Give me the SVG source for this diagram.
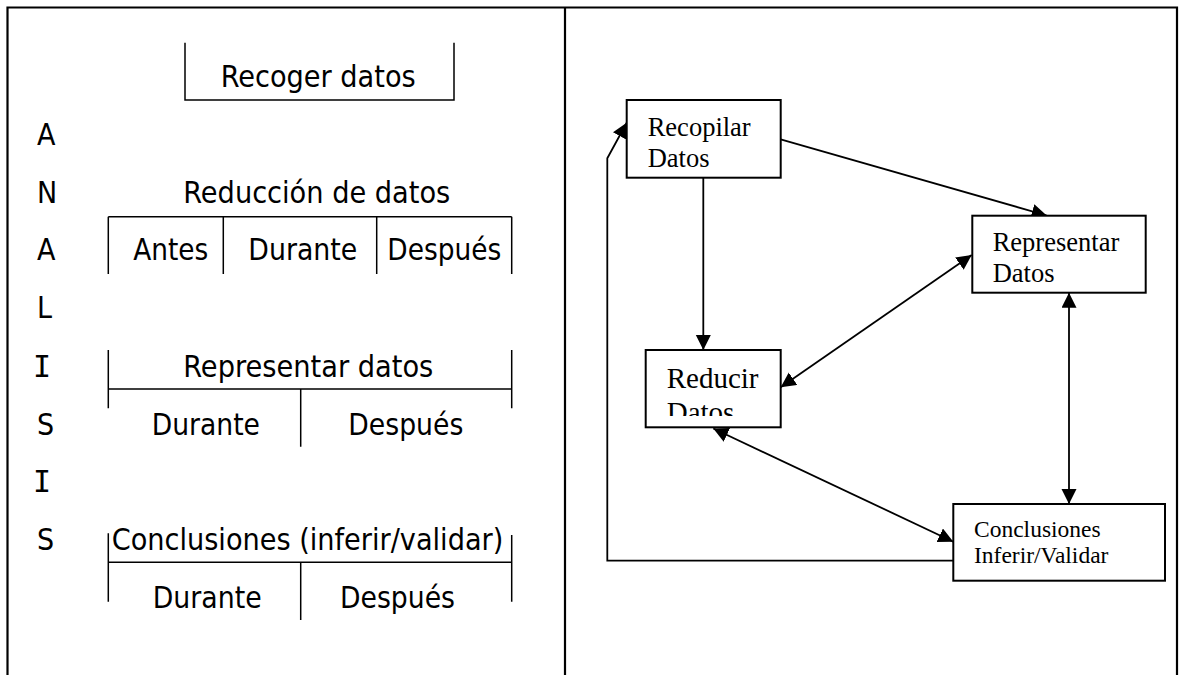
<svg xmlns="http://www.w3.org/2000/svg" width="1179" height="675" viewBox="0 0 1179 675">
<style>
.frame{fill:none;stroke:#000;stroke-width:2.2}
.br{fill:none;stroke:#000;stroke-width:1.5}
.lt{font-family:"DejaVu Sans Condensed","DejaVu Sans",sans-serif;font-size:30px;fill:#000}
.ltI{font-family:"DejaVu Sans Mono",monospace;font-size:30px;fill:#000}
.box{fill:#fff;stroke:#000;stroke-width:2}
.bt{font-family:"Liberation Serif","Times New Roman",serif;fill:#000}
.con{fill:none;stroke:#000;stroke-width:1.8}
</style>
<defs>
<marker id="ah" markerUnits="userSpaceOnUse" markerWidth="16" markerHeight="16" refX="15" refY="7.5" orient="auto-start-reverse" viewBox="0 0 16 16">
<path d="M0,0 L15,7.5 L0,15 z" fill="#000"/>
</marker>
<clipPath id="clipRed"><rect x="645.7" y="350" width="135" height="66"/></clipPath>
</defs>
<rect width="1179" height="675" fill="#fff"/>
<g id="frame">
<path class="frame" d="M7.5,675 V7.5 H1177 V675"/>
<path class="frame" d="M565,7.5 V675"/>
</g>
<g id="analisis-letters">
<text class="lt" x="37" y="145">A</text>
<text class="lt" x="37" y="203">N</text>
<text class="lt" x="37" y="260">A</text>
<text class="lt" x="37" y="318">L</text>
<text class="ltI" x="33" y="376.5">I</text>
<text class="lt" x="37" y="435">S</text>
<text class="ltI" x="33" y="492">I</text>
<text class="lt" x="37" y="550">S</text>
</g>
<g id="recoger">
<path class="br" d="M185,42.7 V100 H454 V42.7"/>
<text class="lt" x="220.7" y="87.3" textLength="195" lengthAdjust="spacingAndGlyphs">Recoger datos</text>
</g>
<g id="reduccion">
<text class="lt" x="183.3" y="203.3" textLength="267" lengthAdjust="spacingAndGlyphs">Reducción de datos</text>
<path class="br" d="M108.3,216.7 H511.7 M108.3,216.7 V274 M223.3,216.7 V274 M376.7,216.7 V274 M511.7,216.7 V274"/>
<text class="lt" x="133.3" y="260" textLength="75" lengthAdjust="spacingAndGlyphs">Antes</text>
<text class="lt" x="248.3" y="260" textLength="109" lengthAdjust="spacingAndGlyphs">Durante</text>
<text class="lt" x="387.3" y="260" textLength="114" lengthAdjust="spacingAndGlyphs">Después</text>
</g>
<g id="representar">
<text class="lt" x="183.3" y="376.7" textLength="250" lengthAdjust="spacingAndGlyphs">Representar datos</text>
<path class="br" d="M108.3,350 V408.3 M511.7,350 V408.3 M108.3,389 H511.7 M300.7,389 V446.7"/>
<text class="lt" x="151.7" y="435" textLength="108.3" lengthAdjust="spacingAndGlyphs">Durante</text>
<text class="lt" x="348.3" y="435" textLength="115" lengthAdjust="spacingAndGlyphs">Después</text>
</g>
<g id="conclusiones">
<text class="lt" x="111.7" y="550" textLength="391.6" lengthAdjust="spacingAndGlyphs">Conclusiones (inferir/validar)</text>
<path class="br" d="M108.3,533.3 V601.7 M511.7,535 V601.7 M108.3,562.3 H511.7 M300.7,562.3 V620"/>
<text class="lt" x="152.7" y="608.3" textLength="109" lengthAdjust="spacingAndGlyphs">Durante</text>
<text class="lt" x="340" y="608.3" textLength="115" lengthAdjust="spacingAndGlyphs">Después</text>
</g>
<g id="connectors">
<path class="con" d="M780.7,139.3 L1046.7,215.5" marker-end="url(#ah)"/>
<path class="con" d="M703.3,177.7 V350" marker-end="url(#ah)"/>
<path class="con" d="M971.7,255 L780.7,387.3" marker-start="url(#ah)" marker-end="url(#ah)"/>
<path class="con" d="M1069,292.7 V504" marker-start="url(#ah)" marker-end="url(#ah)"/>
<path class="con" d="M713.3,428.5 L953.3,541.7" marker-start="url(#ah)" marker-end="url(#ah)"/>
<path class="con" d="M953.3,560.7 H607.3 V158.3 L626.7,122.7" marker-end="url(#ah)"/>
</g>
<g id="node-recopilar">
<rect class="box" x="626.7" y="100" width="154" height="77.7"/>
<text class="bt" x="647.7" y="136" font-size="26.5">Recopilar</text>
<text class="bt" x="647.7" y="166.7" font-size="26.5">Datos</text>
</g>
<g id="node-representar">
<rect class="box" x="972.3" y="215.7" width="173.4" height="77"/>
<text class="bt" x="992.7" y="250.7" font-size="26.5">Representar</text>
<text class="bt" x="992.7" y="281.7" font-size="26.5">Datos</text>
</g>
<g id="node-reducir">
<rect class="box" x="645.7" y="350" width="135" height="77.3"/>
<g clip-path="url(#clipRed)">
<text class="bt" x="666.7" y="388.3" font-size="29">Reducir</text>
<text class="bt" x="666.7" y="421.5" font-size="29">Datos</text>
</g>
</g>
<g id="node-conclusiones">
<rect class="box" x="953.3" y="504" width="211.7" height="76.7"/>
<text class="bt" x="974" y="536.7" font-size="23.5">Conclusiones</text>
<text class="bt" x="974" y="563.3" font-size="23.5">Inferir/Validar</text>
</g>
</svg>
